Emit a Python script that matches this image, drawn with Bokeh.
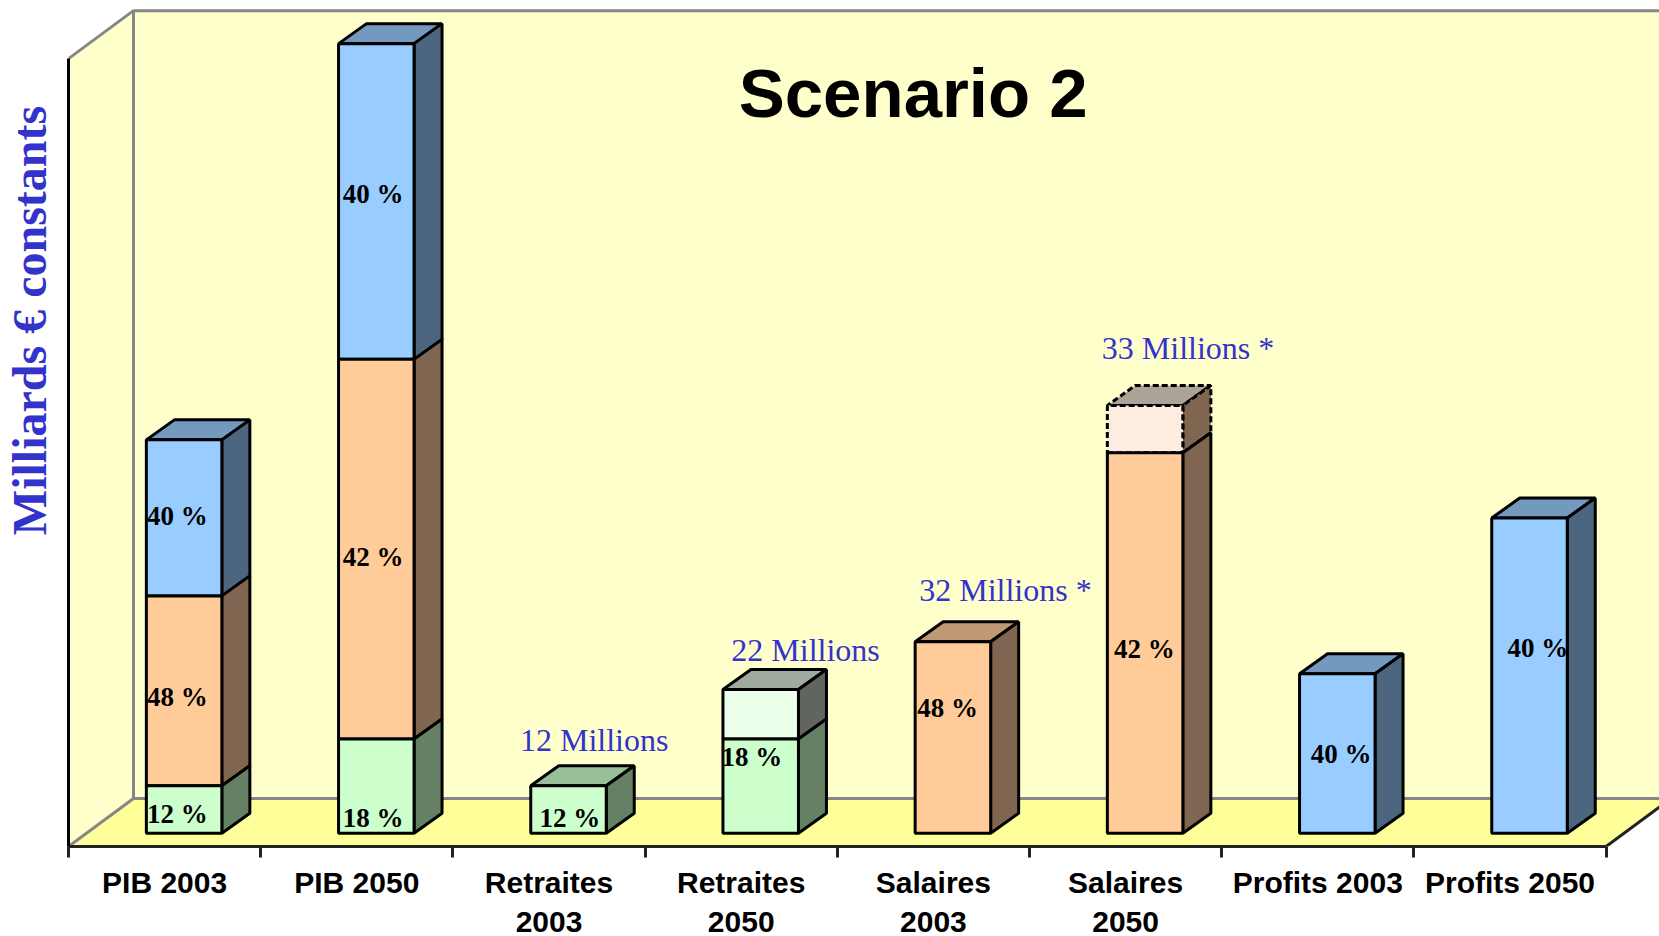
from bokeh.plotting import figure
from bokeh.models import Range1d, FixedTicker, LinearAxis, Label
from bokeh.core.properties import value
from bokeh.embed import file_html
from bokeh.resources import INLINE

# ---------- data (Milliards d'euros) ----------
categories = ["PIB 2003", "PIB 2050", "Retraites\n2003", "Retraites\n2050", "Salaires\n2003", "Salaires\n2050", "Profits 2003", "Profits 2050"]
retraites = [180, 358, 180, 358, 0, 0, 0, 0]
retraites_extra = [0, 0, 0, 188, 0, 0, 0, 0]
salaires = [722, 1443, 0, 0, 728, 1446, 0, 0]
salaires_extra = [0, 0, 0, 0, 0, 180, 0, 0]
profits = [593, 1200, 0, 0, 0, 0, 606, 1198]

pct_cat = [0, 0, 0, 1, 1, 1, 2, 3, 4, 5, 6, 7]
pct_text = ["40 %", "48 %", "12 %", "40 %", "42 %", "18 %", "12 %", "18 %", "48 %", "42 %", "40 %", "40 %"]
pct_y = [1207, 516, 73, 2429, 1050, 56, 56, 290, 474, 700, 302, 704]
pct_dx = [.066, .066, .066, .085, .085, .085, .109, .055, .074, .098, .122, .145]

millions_text = ["12 Millions", "22 Millions", "32 Millions *", "33 Millions *"]
millions_x = [2.235, 3.335, 4.375, 5.325]
millions_y = [354, 697, 925, 1846]

# ---------- styles and layout ----------
BLUE = ("#99CCFF", "#4D6680", "#7399BF")
ORANGE = ("#FFCC99", "#806650", "#BF9973")
GREEN = ("#CCFFCC", "#668066", "#99BF99")
PALE_GREEN = ("#EBFFEB", "#60665F", "#A0AB9F")
PALE_ORANGE = ("#FDEDE0", "#806650", "#ADA296")

PX_X = 192.2       # pixels per category
PX_Y = 0.2631      # pixels per milliard
W, H = 1659, 936
LEFT, BOTTOM = 68, 90
FW, FH = W - LEFT, H - BOTTOM
x0 = -0.5
y0 = -13.3 / PX_Y

BAR_W = 75.5 / PX_X
BAR_SHIFT = 19.5 / PX_X
DEPTH_X, DEPTH_Y = 28 / PX_X, 20 / PX_Y
WALL_X, WALL_Y = 65 / PX_X, 48 / PX_Y
WALL_TOP = 2944
LW = 3

p = figure(width=W, height=H, frame_width=FW, frame_height=FH, output_backend="svg", toolbar_location=None,
           x_range=Range1d(x0, x0 + FW / PX_X), y_range=Range1d(y0, y0 + FH / PX_Y),
           x_axis_type=None, y_axis_type=None,
           min_border_left=LEFT, min_border_bottom=BOTTOM, min_border_top=0, min_border_right=0)
p.outline_line_color = None
p.grid.visible = False

# ---------- walls and floor ----------
xr = x0 + FW / PX_X + 1
wall_fill, floor_fill, wall_line = "#FFFFCC", "#FFFF99", "#868686"
p.patch([x0 + WALL_X, xr, xr, x0 + WALL_X], [y0 + WALL_Y, y0 + WALL_Y, WALL_TOP + WALL_Y, WALL_TOP + WALL_Y],
        fill_color=wall_fill, line_color=None)
p.patch([x0, x0 + WALL_X, x0 + WALL_X, x0], [y0, y0 + WALL_Y, WALL_TOP + WALL_Y, WALL_TOP],
        fill_color=wall_fill, line_color=None)
p.patch([x0, 7.5, 7.5 + WALL_X, x0 + WALL_X], [y0, y0, y0 + WALL_Y, y0 + WALL_Y],
        fill_color=floor_fill, line_color=None)
p.line([x0, x0 + WALL_X, x0 + WALL_X, x0 + WALL_X, xr], [WALL_TOP, WALL_TOP + WALL_Y, y0 + WALL_Y, WALL_TOP + WALL_Y, WALL_TOP + WALL_Y],
       line_color=wall_line, line_width=LW)
p.line([x0, x0 + WALL_X, xr], [y0, y0 + WALL_Y, y0 + WALL_Y], line_color=wall_line, line_width=LW)
p.line([7.5, 7.5 + WALL_X], [y0, y0 + WALL_Y], line_color="#222222", line_width=LW)

# ---------- 3D bars ----------
stack_series = [(retraites, GREEN, False), (retraites_extra, PALE_GREEN, False),
                (salaires, ORANGE, False), (salaires_extra, PALE_ORANGE, True),
                (profits, BLUE, False)]

for i in range(len(categories)):
    segs, base = [], 0
    for series, colors, dashed in stack_series:
        if series[i] > 0:
            segs.append((base, base + series[i], colors, dashed))
            base += series[i]
    xl = i + BAR_SHIFT - BAR_W / 2
    xh = i + BAR_SHIFT + BAR_W / 2
    # upper segments first, so that a lower solid edge lies over a dashed one
    for k, (b, t, colors, dashed) in reversed(list(enumerate(segs))):
        dash = "6 3" if dashed else "solid"
        if k == len(segs) - 1:
            p.patch([xl, xh, xh + DEPTH_X, xl + DEPTH_X], [t, t, t + DEPTH_Y, t + DEPTH_Y],
                    fill_color=colors[2], line_color="black", line_width=LW, line_dash=dash)
        p.patch([xh, xh + DEPTH_X, xh + DEPTH_X, xh], [b, b + DEPTH_Y, t + DEPTH_Y, t],
                fill_color=colors[1], line_color="black", line_width=LW, line_dash=dash)
        p.patch([xl, xh, xh, xl], [b, b, t, t],
                fill_color=colors[0], line_color="black", line_width=LW, line_dash=dash)

# ---------- labels ----------
p.text([c + d for c, d in zip(pct_cat, pct_dx)], pct_y, text=pct_text,
       text_font=value("Liberation Serif"), text_font_style="bold", text_font_size="27px",
       text_color="black", text_align="center", text_baseline="middle")
p.text(millions_x, millions_y, text=millions_text,
       text_font=value("Liberation Serif"), text_font_size="32px",
       text_color="#3333CC", text_align="center", text_baseline="middle")

p.add_layout(Label(x=3.895, y=2811, text="Scenario 2", text_font="Liberation Sans", text_font_style="bold",
                   text_font_size="69px", text_color="black", text_align="center", text_baseline="middle"))

# ---------- axes ----------
yaxis = LinearAxis(bounds=(y0, WALL_TOP), ticker=FixedTicker(ticks=[]), axis_line_color="black", axis_line_width=LW,
                   major_tick_line_color=None, minor_tick_line_color=None, major_label_text_font_size="0px",
                   major_tick_in=0, major_tick_out=0, minor_tick_in=0, minor_tick_out=0)
p.add_layout(yaxis, "left")
p.add_layout(Label(x=13.8, y=526, x_units="screen", y_units="screen", text="Milliards € constants",
                   angle=90, angle_units="deg", text_align="center", text_baseline="alphabetic",
                   text_font="Liberation Serif", text_font_style="bold",
                   text_font_size="48px", text_color="#3333CC"), "left")

xaxis = LinearAxis(bounds=(x0, 7.5),
                   ticker=FixedTicker(ticks=list(range(8)), minor_ticks=[k - 0.5 for k in range(9)]),
                   major_label_overrides={k: c for k, c in enumerate(categories)},
                   axis_line_color="#222222", axis_line_width=LW,
                   major_tick_line_color=None, major_tick_in=0, major_tick_out=0,
                   minor_tick_line_color="#222222", minor_tick_line_width=LW, minor_tick_in=0, minor_tick_out=11,
                   major_label_standoff=8,
                   major_label_text_line_height=1.19,
                   major_label_text_font="Liberation Sans", major_label_text_font_style="bold",
                   major_label_text_font_size="30px", major_label_text_color="black")
p.add_layout(xaxis, "below")

open("out.html", "w").write(file_html(p, INLINE))
